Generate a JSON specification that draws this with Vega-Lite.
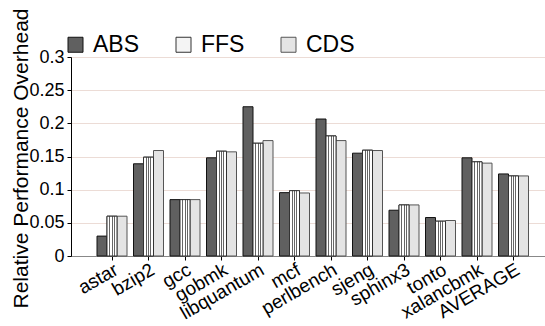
{
  "$schema": "https://vega.github.io/schema/vega-lite/v6.json",
  "width": 474,
  "height": 199,
  "autosize": {"type": "none"},
  "padding": {"left": 71, "top": 57, "right": 0, "bottom": 70},
  "config": {
    "font": "Liberation Sans",
    "view": {"stroke": null},
    "axis": {"labelColor": "black", "titleColor": "black", "tickColor": "black", "domainColor": "black"}
  },
  "data": {
    "values": [
      {"benchmark": "astar", "scheme": "ABS", "value": 0.030},
      {"benchmark": "astar", "scheme": "FFS", "value": 0.060},
      {"benchmark": "astar", "scheme": "CDS", "value": 0.060},
      {"benchmark": "bzip2", "scheme": "ABS", "value": 0.139},
      {"benchmark": "bzip2", "scheme": "FFS", "value": 0.149},
      {"benchmark": "bzip2", "scheme": "CDS", "value": 0.159},
      {"benchmark": "gcc", "scheme": "ABS", "value": 0.085},
      {"benchmark": "gcc", "scheme": "FFS", "value": 0.085},
      {"benchmark": "gcc", "scheme": "CDS", "value": 0.085},
      {"benchmark": "gobmk", "scheme": "ABS", "value": 0.148},
      {"benchmark": "gobmk", "scheme": "FFS", "value": 0.158},
      {"benchmark": "gobmk", "scheme": "CDS", "value": 0.157},
      {"benchmark": "libquantum", "scheme": "ABS", "value": 0.225},
      {"benchmark": "libquantum", "scheme": "FFS", "value": 0.170},
      {"benchmark": "libquantum", "scheme": "CDS", "value": 0.174},
      {"benchmark": "mcf", "scheme": "ABS", "value": 0.0955},
      {"benchmark": "mcf", "scheme": "FFS", "value": 0.0985},
      {"benchmark": "mcf", "scheme": "CDS", "value": 0.095},
      {"benchmark": "perlbench", "scheme": "ABS", "value": 0.2065},
      {"benchmark": "perlbench", "scheme": "FFS", "value": 0.181},
      {"benchmark": "perlbench", "scheme": "CDS", "value": 0.174},
      {"benchmark": "sjeng", "scheme": "ABS", "value": 0.155},
      {"benchmark": "sjeng", "scheme": "FFS", "value": 0.1595},
      {"benchmark": "sjeng", "scheme": "CDS", "value": 0.159},
      {"benchmark": "sphinx3", "scheme": "ABS", "value": 0.069},
      {"benchmark": "sphinx3", "scheme": "FFS", "value": 0.077},
      {"benchmark": "sphinx3", "scheme": "CDS", "value": 0.077},
      {"benchmark": "tonto", "scheme": "ABS", "value": 0.058},
      {"benchmark": "tonto", "scheme": "FFS", "value": 0.0525},
      {"benchmark": "tonto", "scheme": "CDS", "value": 0.0535},
      {"benchmark": "xalancbmk", "scheme": "ABS", "value": 0.148},
      {"benchmark": "xalancbmk", "scheme": "FFS", "value": 0.142},
      {"benchmark": "xalancbmk", "scheme": "CDS", "value": 0.140},
      {"benchmark": "AVERAGE", "scheme": "ABS", "value": 0.1237},
      {"benchmark": "AVERAGE", "scheme": "FFS", "value": 0.1207},
      {"benchmark": "AVERAGE", "scheme": "CDS", "value": 0.1207}
    ]
  },
  "encoding": {
    "x": {
      "field": "benchmark",
      "type": "nominal",
      "sort": null,
      "scale": {"paddingInner": 0.178, "paddingOuter": 0.582, "align": 0.612},
      "axis": {
        "title": null,
        "labelAngle": -30,
        "labelFontSize": 19,
        "tickSize": 4,
        "domainColor": "#888",
        "labelPadding": 0
      }
    },
    "xOffset": {"field": "scheme", "sort": ["ABS", "FFS", "CDS"]},
    "y": {
      "field": "value",
      "type": "quantitative",
      "scale": {"domain": [0, 0.3], "nice": false},
      "axis": {
        "values": [0, 0.05, 0.1, 0.15, 0.2, 0.25, 0.3],
        "format": ".2~f",
        "labelFontSize": 18,
        "tickSize": 4,
        "labelPadding": 3,
        "gridColor": "#ecdcd6",
        "title": "Relative Performance Overhead",
        "titleFontSize": 21,
        "titleFontWeight": "normal",
        "titleAngle": -90,
        "titleX": -44,
        "titleY": 101,
        "titleAlign": "center",
        "titleBaseline": "alphabetic"
      }
    }
  },
  "layer": [
    {
      "mark": {"type": "bar", "strokeWidth": 1},
      "encoding": {
        "color": {
          "field": "scheme",
          "type": "nominal",
          "scale": {"domain": ["ABS", "FFS", "CDS"], "range": ["#606060", "#f4f4f4", "#e4e4e4"]},
          "legend": {
            "title": null,
            "orient": "none",
            "legendX": -7,
            "legendY": -24,
            "direction": "horizontal",
            "symbolType": "square",
            "symbolSize": 225,
            "symbolStrokeColor": "#222",
            "symbolStrokeWidth": 1,
            "symbolOpacity": 1,
            "labelFontSize": 23,
            "labelOffset": 6,
            "columnPadding": 32,
            "labelColor": "black"
          }
        },
        "stroke": {
          "field": "scheme",
          "type": "nominal",
          "scale": {"domain": ["ABS", "FFS", "CDS"], "range": ["#111111", "#333333", "#555555"]},
          "legend": null
        }
      }
    },
    {
      "transform": [{"filter": "datum.scheme === 'FFS'"}],
      "mark": {
        "type": "bar",
        "strokeWidth": 1,
        "stroke": "#333333",
        "fill": {
          "gradient": "linear", "x1": 0, "y1": 0, "x2": 1, "y2": 0,
          "stops": [
            {"offset": 0, "color": "#ffffff"},
            {"offset": 0.22, "color": "#ffffff"},
            {"offset": 0.22, "color": "#666666"},
            {"offset": 0.32, "color": "#666666"},
            {"offset": 0.32, "color": "#ffffff"},
            {"offset": 0.45, "color": "#ffffff"},
            {"offset": 0.45, "color": "#666666"},
            {"offset": 0.55, "color": "#666666"},
            {"offset": 0.55, "color": "#ffffff"},
            {"offset": 0.68, "color": "#ffffff"},
            {"offset": 0.68, "color": "#666666"},
            {"offset": 0.78, "color": "#666666"},
            {"offset": 0.78, "color": "#ffffff"},
            {"offset": 1, "color": "#ffffff"}
          ]
        }
      }
    }
  ]
}
